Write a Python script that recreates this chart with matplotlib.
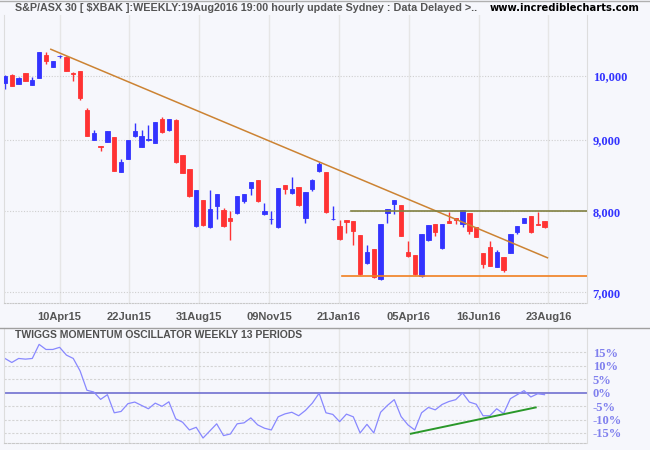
import numpy as np
import pandas as pd
import matplotlib
matplotlib.use('Agg')
import matplotlib.pyplot as plt
import matplotlib.dates as mdates
from matplotlib.ticker import NullLocator

plt.rcParams['font.family'] = ['Liberation Sans', 'DejaVu Sans']

# weekly bars, 13 Feb 2015 .. 19 Aug 2016
dates = pd.date_range('2015-02-13', periods=80, freq='7D')
opens = [9890, 10017, 9874, 10050, 9857, 9972, 10353, 10155, 10330, 10324,
         10050, 10083, 9454, 9000, 8909, 8975, 9042, 8538, 8724, 9057,
         8899, 9005, 8960, 9315, 9148, 9299, 8778, 8576, 7806, 8149,
         7793, 8068, 8014, 7910, 7974, 8136, 8311, 8422, 7960, 7893,
         7793, 8353, 8243, 8325, 7910, 8297, 8548, 8534, 7893, 7806,
         7884, 7871, 7691, 7341, 7516, 7153, 7974, 8095, 8081, 7478,
         7441, 7188, 7628, 7832, 7529, 7871, 7910, 7836, 7974, 7793,
         7466, 7541, 7299, 7416, 7470, 7733, 7849, 7936, 7836, 7871]
highs = [10010, 10030, 9975, 10055, 9983, 10410, 10404, 10255, 10345, 10330,
         10066, 10090, 9486, 9148, 8915, 9140, 9050, 8720, 9005, 9254,
         9148, 9224, 9275, 9346, 9320, 9315, 8785, 8580, 8290, 8155,
         8284, 8235, 8041, 8000, 8210, 8235, 8400, 8430, 8109, 8000,
         8318, 8360, 8464, 8330, 8262, 8436, 8676, 8540, 8068, 7884,
         7890, 7875, 7695, 7566, 7520, 7838, 8032, 8155, 8085, 7615,
         7445, 7710, 7825, 7838, 7838, 7991, 7915, 8020, 7980, 7798,
         7470, 7615, 7503, 7420, 7710, 7810, 7915, 7940, 7991, 7875]
lows = [9790, 9830, 9865, 9915, 9850, 9965, 10205, 10150, 10297, 10080,
        9923, 9612, 9055, 8995, 8840, 8970, 8545, 8530, 8720, 9050,
        8895, 8990, 8955, 9110, 9140, 8670, 8515, 8195, 7800, 7812,
        7788, 7898, 7800, 7628, 7968, 8109, 8217, 8130, 7955, 7832,
        7788, 8230, 8238, 8068, 7845, 8270, 8540, 7980, 7890, 7628,
        7717, 7566, 7205, 7335, 7170, 7148, 7845, 7960, 7675, 7425,
        7208, 7183, 7623, 7679, 7524, 7845, 7836, 7797, 7707, 7665,
        7287, 7305, 7294, 7239, 7465, 7707, 7845, 7720, 7820, 7785]
closes = [10000, 9841, 9967, 9923, 9934, 10404, 10256, 10251, 10340, 10088,
          10040, 9643, 9062, 9103, 8890, 9133, 8552, 8676, 9000, 9133,
          9057, 9012, 9268, 9118, 9315, 8676, 8520, 8203, 8284, 7819,
          8027, 8230, 7806, 7871, 8203, 8230, 8394, 8136, 8000, 7898,
          8311, 8297, 8297, 8081, 8257, 8422, 8647, 7987, 7898, 7641,
          7858, 7742, 7212, 7478, 7176, 7832, 8027, 8149, 7679, 7429,
          7212, 7704, 7819, 7729, 7832, 7849, 7888, 8014, 7746, 7670,
          7332, 7311, 7478, 7263, 7704, 7806, 7910, 7733, 7824, 7797]

# Twiggs momentum oscillator (%)
momentum = [12.75, 11.25, 12.75, 12.5, 12.75, 18.0, 16.1, 16.1, 16.9, 14.0,
            12.75, 8.1, 0.9, 0.25, -2.5, -0.75, -7.5, -7.0, -4.1, -3.5,
            -4.75, -6.0, -3.9, -5.1, -3.4, -9.75, -11.0, -13.9, -12.9, -16.9,
            -14.25, -11.6, -16.0, -15.4, -11.6, -11.25, -9.4, -12.0, -13.25, -13.9,
            -9.0, -7.9, -7.3, -8.6, -6.6, -3.9, -0.2, -7.5, -8.1, -10.8,
            -8.0, -9.0, -15.0, -11.8, -15.0, -7.3, -4.75, -2.6, -8.9, -12.0,
            -13.9, -7.5, -5.5, -6.4, -4.4, -3.3, -2.6, -0.1, -3.5, -4.3,
            -8.6, -8.6, -6.0, -7.8, -2.25, -0.75, 0.75, -1.6, -0.4, -0.75]

# drawn lines
trend_dates = ['2015-04-01', '2016-08-22']
trend_vals = [10450, 7410]
resist_start, resist_val = '2016-02-03', 8000
support_start, support_val = '2016-01-24', 7196
mom_trend_dates = ['2016-04-04', '2016-08-10']
mom_trend_vals = [-15.3, -5.5]

tick_first, tick_last = '2015-04-10', '2016-08-23'
tick_labels = ['10Apr15', '22Jun15', '31Aug15', '09Nov15', '21Jan16', '05Apr16', '16Jun16', '23Aug16']
price_ticks = [7000, 8000, 9000, 10000]
price_labels = ['7,000', '8,000', '9,000', '10,000']
pct_ticks = [-15, -10, -5, 0, 5, 10, 15]
pct_labels = ['-15%', '-10%', '-5%', '0%', '5%', '10%', '15%']

bg = '#f6f7fc'
blue = '#3333ff'
red = '#ff3333'

x = mdates.date2num(dates)
o = np.array(opens); h = np.array(highs); l = np.array(lows); c = np.array(closes)
up = c >= o
cols = np.where(up, blue, red)
xmin = x[0] - 1.0
xmax = x[0] + 596.6
ticks = np.linspace(mdates.date2num(pd.Timestamp(tick_first)), mdates.date2num(pd.Timestamp(tick_last)), len(tick_labels))

fig = plt.figure(figsize=(6.5, 4.5), dpi=100, facecolor=bg)
ax = fig.add_axes([0.00615, 0.326, 0.897, 0.6407], facecolor=bg)
ax2 = fig.add_axes([0.00615, 0.0156, 0.897, 0.2549], facecolor=bg)

# ---- price panel
ax.set_yscale('log')
ax.set_xlim(xmin, xmax)
ax.set_ylim(6874, 11058)
for t in ticks:
    ax.axvline(t, color='#e6e6e6', lw=1, zorder=0)
for p in price_ticks:
    ax.axhline(p, color='#cfcfcf', lw=0.8, ls=(0, (1, 1.5)), zorder=0)

ax.vlines(x, l, h, colors=cols, lw=1, zorder=2)
ax.bar(x, np.abs(c - o), bottom=np.minimum(o, c), width=4.4, color=cols,
       edgecolor=cols, lw=0.6, zorder=3)

tx = mdates.date2num(pd.to_datetime(trend_dates))
ax.plot(tx, trend_vals, color='#cc8333', lw=1.1, zorder=4)
ax.plot([mdates.date2num(pd.Timestamp(resist_start)), xmax], [resist_val] * 2, color='#808040', lw=1.2, zorder=4)
ax.plot([mdates.date2num(pd.Timestamp(support_start)), xmax], [support_val] * 2, color='#f08020', lw=1.2, zorder=4)

ax.yaxis.tick_right()
ax.set_yticks(price_ticks)
ax.set_yticklabels(price_labels)
ax.yaxis.set_minor_locator(NullLocator())
ax.tick_params(axis='y', length=0, pad=4, labelcolor=blue)
for lab in ax.get_yticklabels():
    lab.set_fontfamily('Liberation Serif')
    lab.set_fontweight('bold')
    lab.set_fontsize(9)
ax.set_xticks(ticks)
ax.set_xticklabels(tick_labels)
ax.tick_params(axis='x', length=0, pad=6, labelcolor='#555555', labelsize=8)
for lab in ax.get_xticklabels():
    lab.set_fontweight('bold')
ax.xaxis.set_minor_locator(NullLocator())
ax.spines['top'].set_visible(False)
ax.spines['left'].set_color('#dddddd')
ax.spines['right'].set_color('#dddddd')
ax.spines['bottom'].set_color('#c8c8c8')
ax.spines['bottom'].set_linestyle((0, (1, 1.5)))
ax.spines['bottom'].set_linewidth(0.8)

# ---- momentum panel
ax2.set_xlim(xmin, xmax)
ax2.set_ylim(-18.75, 24)
for t in ticks:
    ax2.axvline(t, color='#e6e6e6', lw=1, zorder=0)
for p in pct_ticks:
    if p != 0:
        ax2.axhline(p, color='#d4d4d4', lw=0.8, ls=(0, (2, 1.5)), zorder=0)
ax2.axhline(0, color='#7070d0', lw=1.2, zorder=1)
ax2.plot(x, momentum, color='#8888ff', lw=0.9, zorder=2)
mx = mdates.date2num(pd.to_datetime(mom_trend_dates))
ax2.plot(mx, mom_trend_vals, color='#2a982a', lw=1.4, zorder=3)

ax2.yaxis.tick_right()
ax2.set_yticks(pct_ticks)
ax2.set_yticklabels(pct_labels)
ax2.tick_params(axis='y', length=0, pad=4, labelcolor='#8080ee')
for lab in ax2.get_yticklabels():
    lab.set_fontfamily('Liberation Serif')
    lab.set_fontweight('bold')
    lab.set_fontsize(9)
ax2.set_xticks([])
ax2.spines['top'].set_visible(False)
ax2.spines['left'].set_color('#dddddd')
ax2.spines['right'].set_color('#dddddd')
ax2.spines['bottom'].set_color('#c8c8c8')
ax2.spines['bottom'].set_linestyle((0, (2, 1.5)))
ax2.spines['bottom'].set_linewidth(0.8)
ax2.text(11 / 583, 0.94, 'TWIGGS MOMENTUM OSCILLATOR WEEKLY 13 PERIODS', transform=ax2.transAxes,
         fontsize=7.5, fontweight='bold', color='#505050', va='center', ha='left')

# separators and header
fig.add_artist(plt.Line2D([0, 1], [1 - 328.3 / 450] * 2, color='#a0a0a0', lw=1))
fig.add_artist(plt.Line2D([0, 1], [0.998, 0.998], color='#b0b0b0', lw=1))
fig.text(15 / 650, 1 - 8 / 450, 'S&P/ASX 30 [ $XBAK ]:WEEKLY:19Aug2016 19:00 hourly update Sydney : Data Delayed >..',
         fontsize=7.75, fontweight='bold', color='#555555', va='center', ha='left')
fig.text(640 / 650, 1 - 8 / 450, 'www.incrediblecharts.com', family='DejaVu Sans',
         fontsize=7.2, fontweight='bold', color='black', va='center', ha='right')

fig.savefig('out.png', dpi=100, facecolor=bg)
